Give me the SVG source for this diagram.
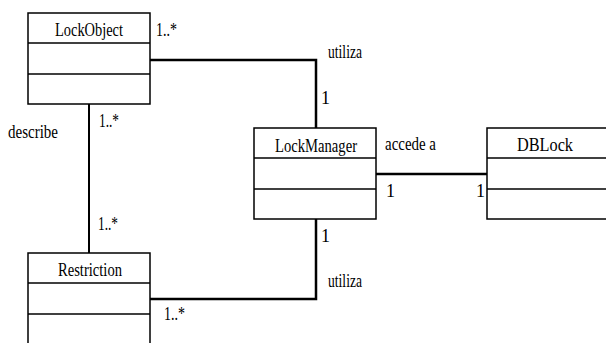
<svg xmlns="http://www.w3.org/2000/svg" width="606" height="343" viewBox="0 0 606 343">
<style>
.box{fill:#fff;stroke:#000;stroke-width:1.5}
.sep{stroke:#000;stroke-width:1.3}
.ln{fill:none;stroke:#000;stroke-width:2.5}
.lt{fill:none;stroke:#000;stroke-width:2}
</style>
<rect width="606" height="343" fill="#fff"/>
<g id="connectors">
<polyline class="ln" points="150,60 316,60 316,128"/>
<polyline class="ln" points="316,219 316,299 150,299"/>
<line class="lt" x1="89" y1="104" x2="89" y2="253"/>
<line class="ln" x1="376" y1="174" x2="487" y2="174"/>
<g font-family="Liberation Serif" font-size="18" fill="#000">
<text x="156" y="36" textLength="21" lengthAdjust="spacingAndGlyphs">1..*</text>
<text x="328" y="58" textLength="34" lengthAdjust="spacingAndGlyphs">utiliza</text>
<text x="321" y="104">1</text>
<text x="8" y="138" textLength="50" lengthAdjust="spacingAndGlyphs">describe</text>
<text x="99" y="127" textLength="20" lengthAdjust="spacingAndGlyphs">1..*</text>
<text x="98" y="230" textLength="20" lengthAdjust="spacingAndGlyphs">1..*</text>
<text x="385" y="150" textLength="51" lengthAdjust="spacingAndGlyphs">accede a</text>
<text x="386" y="197">1</text>
<text x="476" y="197">1</text>
<text x="321" y="242">1</text>
<text x="328" y="287" textLength="34" lengthAdjust="spacingAndGlyphs">utiliza</text>
<text x="164" y="320" textLength="21" lengthAdjust="spacingAndGlyphs">1..*</text>
</g>
</g>
<g id="LockObject">
<rect class="box" x="28" y="13" width="122" height="91"/>
<line class="sep" x1="28" y1="43" x2="150" y2="43"/>
<line class="sep" x1="28" y1="74" x2="150" y2="74"/>
<text font-family="Liberation Serif" font-size="18" text-anchor="middle" x="89" y="36" textLength="68" lengthAdjust="spacingAndGlyphs">LockObject</text>
</g>
<g id="LockManager">
<rect class="box" x="254" y="128" width="122" height="91"/>
<line class="sep" x1="254" y1="158" x2="376" y2="158"/>
<line class="sep" x1="254" y1="189" x2="376" y2="189"/>
<text font-family="Liberation Serif" font-size="18" text-anchor="middle" x="316" y="152" textLength="82" lengthAdjust="spacingAndGlyphs">LockManager</text>
</g>
<g id="DBLock">
<rect class="box" x="487" y="128" width="122" height="91"/>
<line class="sep" x1="487" y1="158" x2="609" y2="158"/>
<line class="sep" x1="487" y1="189" x2="609" y2="189"/>
<text font-family="Liberation Serif" font-size="18" text-anchor="middle" x="545" y="151" textLength="56" lengthAdjust="spacingAndGlyphs">DBLock</text>
</g>
<g id="Restriction">
<rect class="box" x="28" y="253" width="122" height="92"/>
<line class="sep" x1="28" y1="283" x2="150" y2="283"/>
<line class="sep" x1="28" y1="314" x2="150" y2="314"/>
<text font-family="Liberation Serif" font-size="18" text-anchor="middle" x="90" y="276" textLength="64" lengthAdjust="spacingAndGlyphs">Restriction</text>
</g>
</svg>
